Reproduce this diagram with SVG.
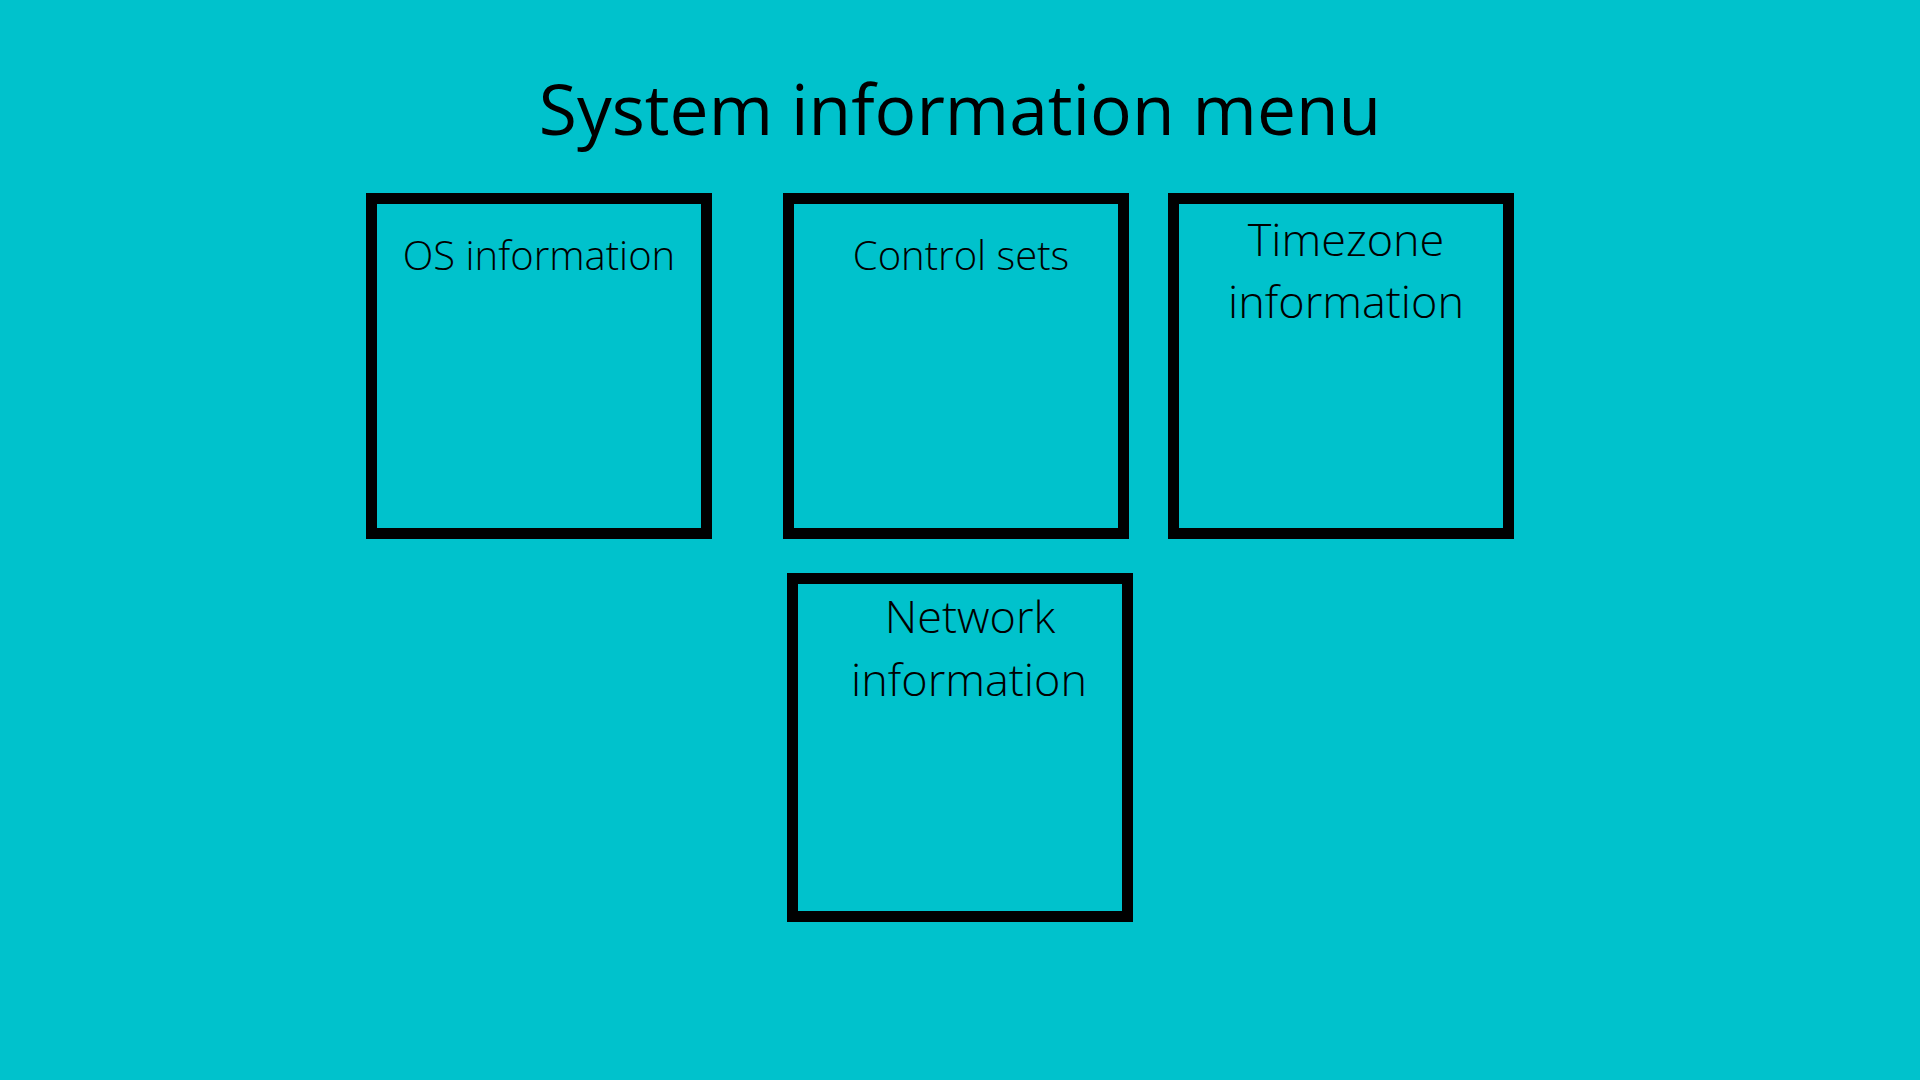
<svg xmlns="http://www.w3.org/2000/svg" width="1920" height="1080" viewBox="0 0 1920 1080">
<style>
.box{fill:none;stroke:#000;stroke-width:11}
.lbl{font-family:"Open Sans","Liberation Sans",sans-serif;font-weight:300;font-size:40px;fill:#000;text-anchor:middle}
.big{font-size:45px}
.title{font-family:"Open Sans","Liberation Sans",sans-serif;font-weight:400;font-size:69.5px;fill:#000;text-anchor:middle}
</style>
<rect x="0" y="0" width="1920" height="1080" fill="#00C2CC"/>
<text class="title" x="960" y="135">System information menu</text>
<g id="os-information">
<rect class="box" x="371.5" y="198.5" width="335" height="335"/>
<text class="lbl" x="539" y="270">OS information</text>
</g>
<g id="control-sets">
<rect class="box" x="788.5" y="198.5" width="335" height="335"/>
<text class="lbl" x="961" y="270">Control sets</text>
</g>
<g id="timezone-information">
<rect class="box" x="1173.5" y="198.5" width="335" height="335"/>
<text class="lbl big" x="1346" y="256">Timezone</text>
<text class="lbl big" x="1346" y="318">information</text>
</g>
<g id="network-information">
<rect class="box" x="792.5" y="578.5" width="335" height="338"/>
<text class="lbl big" x="970" y="633">Network</text>
<text class="lbl big" x="969" y="696">information</text>
</g>
<g id="connectors"></g>
</svg>
